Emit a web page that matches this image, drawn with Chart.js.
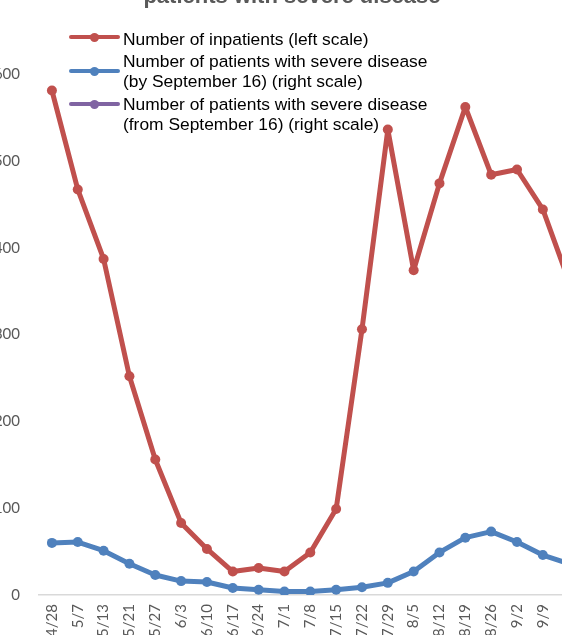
<!DOCTYPE html>
<html>
<head>
<meta charset="utf-8">
<script src="https://cdn.jsdelivr.net/npm/chart.js@4"></script>
<style>
    body { margin: 0; background: #fff; }
    #frame { position: relative; width: 562px; height: 635px; overflow: hidden; background: #fff; }
    #chartBox { position: absolute; left: -20px; top: 0; }
    #title { position: absolute; left: 0; top: -15px; width: 584px; text-align: center;
        font: bold 22px "Liberation Sans", Arial, sans-serif; line-height: 22px; color: #595959; white-space: nowrap; }
    .legend-text { position: absolute; left: 123px; font: 17.4px "Liberation Sans", Arial, sans-serif;
        line-height: 20px; color: #000; white-space: nowrap; }
    .legend-line { position: absolute; left: 69px; width: 51px; height: 4px; border-radius: 2px; }
    .legend-dot { position: absolute; left: 21px; top: -2.5px; width: 9px; height: 9px; border-radius: 50%; }
</style>
</head>
<body>
<div id="frame">
    <div id="chartBox"><canvas id="covidChart" width="660" height="690"></canvas></div>
    <div id="title">patients with severe disease</div>
    <div id="legend"></div>
</div>
<script>
const weeks = ['4/28', '5/7', '5/13', '5/21', '5/27', '6/3', '6/10', '6/17', '6/24', '7/1', '7/8',
    '7/15', '7/22', '7/29', '8/5', '8/12', '8/19', '8/26', '9/2', '9/9', '9/16'];

const inpatients = [581, 467, 387, 252, 156, 83, 53, 27, 31, 27, 49, 99, 306, 536, 374, 474, 562, 484, 490, 444, 362];
const severeUntilSep16 = [60, 61, 51, 36, 23, 16, 15, 8, 6, 4, 4, 6, 9, 14, 27, 49, 66, 73, 61, 46, 36];
const severeFromSep16 = [null, null, null, null, null, null, null, null, null, null, null,
    null, null, null, null, null, null, null, null, null, null];

const leftTicks = [0, 100, 200, 300, 400, 500, 600];

const legendLines = [
    ['Number of inpatients (left scale)'],
    ['Number of patients with severe disease', '(by September 16) (right scale)'],
    ['Number of patients with severe disease', '(from September 16) (right scale)']
];

const red = '#C0504D';
const blue = '#4F81BD';
const purple = '#8064A2';
const tickFont = { family: 'Lato, Calibri, sans-serif', size: 15 };

function series(label, data, color, axis) {
    return {
        label: label,
        data: data,
        yAxisID: axis,
        borderColor: color,
        backgroundColor: color,
        borderWidth: 5,
        borderJoinStyle: 'round',
        borderCapStyle: 'round',
        pointRadius: 5,
        pointBorderWidth: 0,
        pointBackgroundColor: color,
        tension: 0,
        spanGaps: false
    };
}

const chart = new Chart(document.getElementById('covidChart'), {
    type: 'line',
    data: {
        labels: weeks,
        datasets: [
            series(legendLines[0].join(' '), inpatients, red, 'y'),
            series(legendLines[1].join(' '), severeUntilSep16, blue, 'y1'),
            series(legendLines[2].join(' '), severeFromSep16, purple, 'y1')
        ]
    },
    options: {
        responsive: false,
        animation: false,
        devicePixelRatio: 1,
        layout: { padding: { top: 74, left: 0, right: 0, bottom: 0 } },
        plugins: {
            legend: { display: false },
            title: { display: false },
            tooltip: { enabled: false }
        },
        scales: {
            x: {
                offset: true,
                grid: { display: false, drawTicks: false },
                border: { display: true, color: '#d9d9d9', width: 1.5 },
                ticks: {
                    autoSkip: false,
                    minRotation: 90,
                    maxRotation: 90,
                    padding: 9,
                    color: '#595959',
                    font: tickFont
                },
                afterFit(scale) { scale.height = 95; }
            },
            y: {
                position: 'left',
                min: leftTicks[0],
                max: leftTicks[leftTicks.length - 1],
                grid: { display: false, drawTicks: false },
                border: { display: false },
                ticks: { stepSize: 100, padding: 19, color: '#595959', font: tickFont },
                afterFit(scale) { scale.width = 59; }
            },
            y1: {
                position: 'right',
                min: leftTicks[0],
                max: leftTicks[leftTicks.length - 1],
                grid: { display: false, drawTicks: false },
                border: { display: false },
                ticks: { stepSize: 100, padding: 19, color: '#595959', font: tickFont },
                afterFit(scale) { scale.width = 58.4; }
            }
        }
    }
});

// legend sits over the plot like the original, so it is drawn as html
const legendTextTop = [29, 51, 94];
const legendLineTop = [35, 69, 102];
const legend = document.getElementById('legend');
chart.data.datasets.forEach((ds, i) => {
    const line = document.createElement('div');
    line.className = 'legend-line';
    line.style.top = legendLineTop[i] + 'px';
    line.style.background = ds.borderColor;
    const dot = document.createElement('div');
    dot.className = 'legend-dot';
    dot.style.background = ds.borderColor;
    line.appendChild(dot);
    legend.appendChild(line);

    const text = document.createElement('div');
    text.className = 'legend-text';
    text.style.top = legendTextTop[i] + 'px';
    text.innerHTML = legendLines[i].join('<br>');
    legend.appendChild(text);
});
</script>
</body>
</html>
